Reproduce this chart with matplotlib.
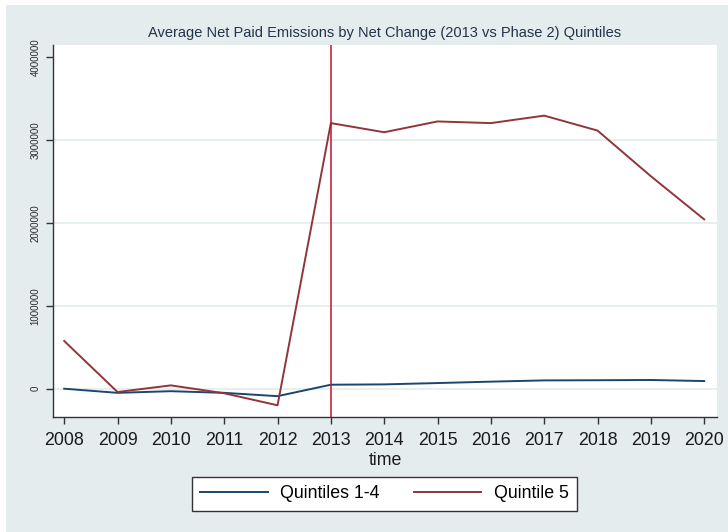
import matplotlib
matplotlib.use('Agg')
import matplotlib.pyplot as plt
from matplotlib.patches import Rectangle

plt.rcParams['font.family'] = ['Liberation Sans', 'DejaVu Sans']

# yearly averages of net paid emissions
years = [2008, 2009, 2010, 2011, 2012, 2013, 2014, 2015, 2016, 2017, 2018, 2019, 2020]
q1_4 = [0, -50000, -30000, -50000, -90000, 48000, 52000, 68000, 85000, 100000, 102000, 105000, 92000]
q5 = [575000, -40000, 40000, -55000, -200000, 3200000, 3090000, 3220000, 3200000, 3290000, 3110000, 2560000, 2040000]

yticks = [0, 1000000, 2000000, 3000000, 4000000]
phase_start = 2013

bg = '#E4ECEE'
navy = '#1A476F'
maroon = '#90353B'

fig = plt.figure(figsize=(7.28, 5.32), dpi=100)
fig.patch.set_facecolor('white')
# graph region (grey panel, thin white margin top/left)
fig.patches.append(Rectangle((6 / 728, 0), 1 - 6 / 728, 1 - 5 / 532,
                             transform=fig.transFigure, facecolor=bg,
                             edgecolor='none', zorder=-10))

ax = fig.add_axes([53 / 728, 1 - 417 / 532, (717 - 53) / 728, (417 - 45) / 532])
ax.set_facecolor('white')

for y in yticks[:-1]:
    ax.axhline(y, color=bg, lw=1.2, zorder=1)

ax.plot(years, q1_4, color=navy, lw=1.4, label='Quintiles 1-4', zorder=3)
ax.plot(years, q5, color=maroon, lw=1.4, label='Quintile 5', zorder=3)
ax.axvline(phase_start, color='#C0142F', lw=1.1, zorder=4)

ax.set_xlim(2007.79, 2020.24)
ax.set_ylim(-341000, 4141000)

ax.set_xticks(years)
ax.set_xticklabels([str(y) for y in years], fontsize=12.8, color='#1a1a1a')
ax.set_yticks(yticks)
ax.set_yticklabels([str(y) for y in yticks], fontsize=7, rotation=90,
                   va='center', color='#2a2a2a')
ax.tick_params(axis='x', direction='out', length=5, width=1, color='#333333', pad=6)
ax.tick_params(axis='y', direction='out', length=5, width=1, color='#333333', pad=4)

for side in ['top', 'right']:
    ax.spines[side].set_visible(False)
for side in ['left', 'bottom']:
    ax.spines[side].set_color('#333333')
    ax.spines[side].set_linewidth(1)

ax.set_xlabel('time', fontsize=12.8, color='#1a1a1a', labelpad=2)

fig.text(385 / 728, 1 - 33 / 532,
         'Average Net Paid Emissions by Net Change (2013 vs Phase 2) Quintiles',
         ha='center', va='center', fontsize=10.5, color='#24324A')

leg = fig.legend(loc='center', bbox_to_anchor=(384.5 / 728, 1 - 494 / 532), ncol=2,
                 fontsize=12.8, frameon=True, fancybox=False, handlelength=3.8,
                 columnspacing=1.9, handletextpad=0.7, borderpad=0.5,
                 borderaxespad=0)
leg.get_frame().set_edgecolor('#333333')
leg.get_frame().set_linewidth(1)
leg.get_frame().set_facecolor('white')
leg.get_frame().set_alpha(1)

fig.savefig('out.png', dpi=100, facecolor=fig.get_facecolor())
